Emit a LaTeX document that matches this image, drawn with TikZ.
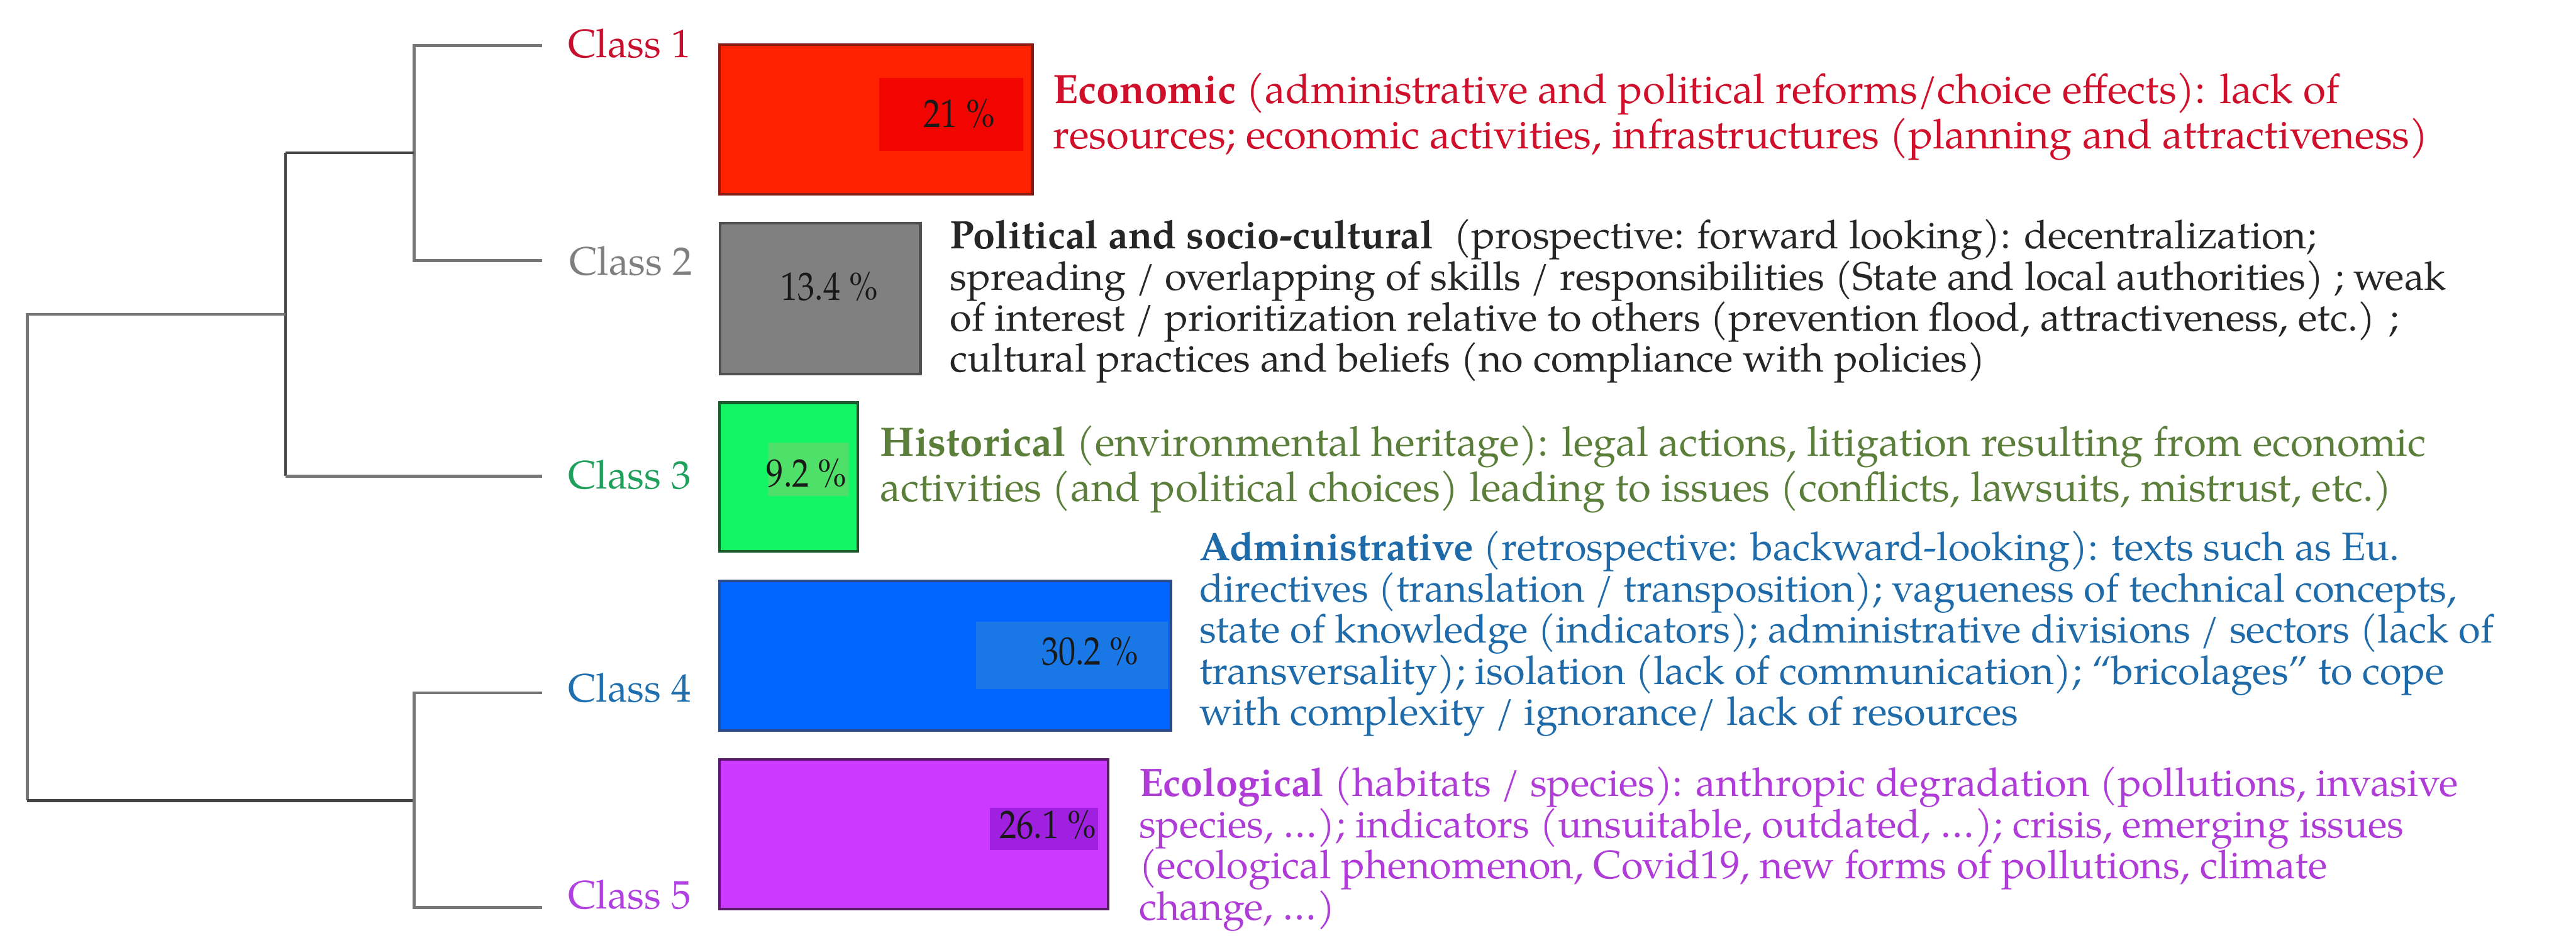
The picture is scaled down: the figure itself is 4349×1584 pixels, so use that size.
\documentclass[tikz,border=0pt]{standalone}
\usepackage{fontspec}
\setmainfont{TeX Gyre Pagella}
\usepackage{graphicx}
\newcommand{\dgfont}{\fontsize{13.4pt}{13.9pt}\selectfont}
\newcommand{\dgfontb}{\fontsize{13.9pt}{14.1pt}\selectfont}
\newcommand{\pctxt}[1]{\scalebox{0.86}[1]{#1}}
\definecolor{dlight}{HTML}{767676}
\definecolor{ddark}{HTML}{444444}
\definecolor{c1col}{HTML}{C8102E}
\definecolor{c2col}{HTML}{7F7F7F}
\definecolor{c3col}{HTML}{1FA05C}
\definecolor{c4col}{HTML}{2070B0}
\definecolor{c5col}{HTML}{B040E0}
\definecolor{t1col}{HTML}{D0102A}
\definecolor{t2col}{HTML}{262626}
\definecolor{t3col}{HTML}{5B7F3A}
\definecolor{t4col}{HTML}{1F6BAA}
\definecolor{t5col}{HTML}{B03CD8}
\definecolor{f1}{HTML}{FF2200}
\definecolor{f1in}{HTML}{F20500}
\definecolor{e1}{HTML}{8A1A14}
\definecolor{f2}{HTML}{808080}
\definecolor{e2}{HTML}{505050}
\definecolor{f3}{HTML}{14F566}
\definecolor{f3in}{HTML}{4FE06A}
\definecolor{e3}{HTML}{1C5A2C}
\definecolor{f4}{HTML}{0066FF}
\definecolor{f4in}{HTML}{1A78E6}
\definecolor{e4}{HTML}{2A4A8A}
\definecolor{f5}{HTML}{CC3AFF}
\definecolor{f5in}{HTML}{A020E0}
\definecolor{e5}{HTML}{5A1A6A}
\begin{document}
\begin{tikzpicture}[x=0.2pt,y=-0.2pt,
  lbl/.style={inner sep=0pt, anchor=base west, font=\dgfont},
  lblb/.style={inner sep=0pt, anchor=base west, font=\dgfontb},
  pct/.style={inner sep=0pt, anchor=base east, font=\dgfont, text=black!90},
  dl/.style={line width=1pt, draw=dlight},
  dd/.style={line width=1pt, draw=ddark},
  bar/.style={line width=0.9pt}]
\useasboundingbox (0,0) rectangle (4349,1584);

% ---- dendrogram coordinates
\coordinate (l1) at (915,77);
\coordinate (l2) at (915,440);
\coordinate (l3) at (915,804);
\coordinate (l4) at (915,1170);
\coordinate (l5) at (915,1533);
\coordinate (a1) at (699,77);
\coordinate (a2) at (699,440);
\coordinate (j12) at (699,258);
\coordinate (k12) at (482,258);
\coordinate (k3) at (482,804);
\coordinate (j123) at (482,531);
\coordinate (r1) at (46,531);
\coordinate (r2) at (46,1352);
\coordinate (j45) at (699,1352);
\coordinate (a4) at (699,1170);
\coordinate (a5) at (699,1533);

\draw[dl] (l1) -- (a1) -- (a2) -- (l2);
\draw[dd] (j12) -- (k12);
\draw[dd] (k12) -- (k3);
\draw[dl] (k3) -- (l3);
\draw[dl] (j123) -- (r1) -- (r2);
\draw[dd] (r2) -- (j45);
\draw[dl] (l4) -- (a4) -- (a5) -- (l5);

% ---- class labels
\node[lbl, text=c1col] (c1) at (958,97) {Class 1};
\node[lbl, text=c2col] (c2) at (960,464) {Class 2};
\node[lbl, text=c3col] (c3) at (958,825) {Class 3};
\node[lbl, text=c4col] (c4) at (958,1185) {Class 4};
\node[lbl, text=c5col] (c5) at (958,1535) {Class 5};

% ---- bars
\draw[bar, fill=f1, draw=e1] (1215,75) rectangle (1743,328);
\fill[f1in] (1484,132) rectangle (1728,255);
\node[pct] (p1) at (1681,215) {\pctxt{21 \%}};

\draw[bar, fill=f2, draw=e2] (1216,377) rectangle (1554,632);
\node[pct] (p2) at (1483,507) {\pctxt{13.4 \%}};

\draw[bar, fill=f3, draw=e3] (1215,680) rectangle (1448,931);
\fill[f3in] (1296,748) rectangle (1432,838);
\node[pct] (p3) at (1430,822) {\pctxt{9.2 \%}};

\draw[bar, fill=f4, draw=e4] (1215,981) rectangle (1977,1234);
\fill[f4in] (1648,1050) rectangle (1972,1164);
\node[pct] (p4) at (1923,1123) {\pctxt{30.2 \%}};

\draw[bar, fill=f5, draw=e5] (1215,1283) rectangle (1871,1535);
\fill[f5in] (1671,1364) rectangle (1854,1436);
\node[pct] (p5) at (1852,1416) {\pctxt{26.1 \%}};

% ---- descriptions
\node[lblb, text=t1col] (d1) at (1777,175) {\vtop{%
\hbox{\textbf{Economic} (administrative and political reforms/choice effects): lack of}
\hbox{resources; economic activities, infrastructures (planning and attractiveness)}}};

\node[lbl, text=t2col] (d2) at (1603,420) {\vtop{%
\hbox{\textbf{Political and socio-cultural}\ \ (prospective: forward looking): decentralization;}
\hbox{spreading / overlapping of skills / responsibilities (State and local authorities) ; weak}
\hbox{of interest / prioritization relative to others (prevention flood, attractiveness, etc.) ;}
\hbox{cultural practices and beliefs (no compliance with policies)}}};

\node[lblb, text=t3col] (d3) at (1485,770) {\vtop{%
\hbox{\textbf{Historical} (environmental heritage): legal actions, litigation resulting from economic}
\hbox{activities (and political choices) leading to issues (conflicts, lawsuits, mistrust, etc.)}}};

\node[lbl, text=t4col] (d4) at (2024,947) {\vtop{%
\hbox{\textbf{Administrative} (retrospective: backward-looking): texts such as Eu.}
\hbox{directives (translation / transposition); vagueness of technical concepts,}
\hbox{state of knowledge (indicators); administrative divisions / sectors (lack of}
\hbox{transversality); isolation (lack of communication); “bricolages” to cope}
\hbox{with complexity / ignorance/ lack of resources}}};

\node[lbl, text=t5col] (d5) at (1922,1345) {\vtop{%
\hbox{\textbf{Ecological} (habitats / species): anthropic degradation (pollutions, invasive}
\hbox{species, …); indicators (unsuitable, outdated, …); crisis, emerging issues}
\hbox{(ecological phenomenon, Covid19, new forms of pollutions, climate}
\hbox{change, …)}}};
\end{tikzpicture}
\end{document}
